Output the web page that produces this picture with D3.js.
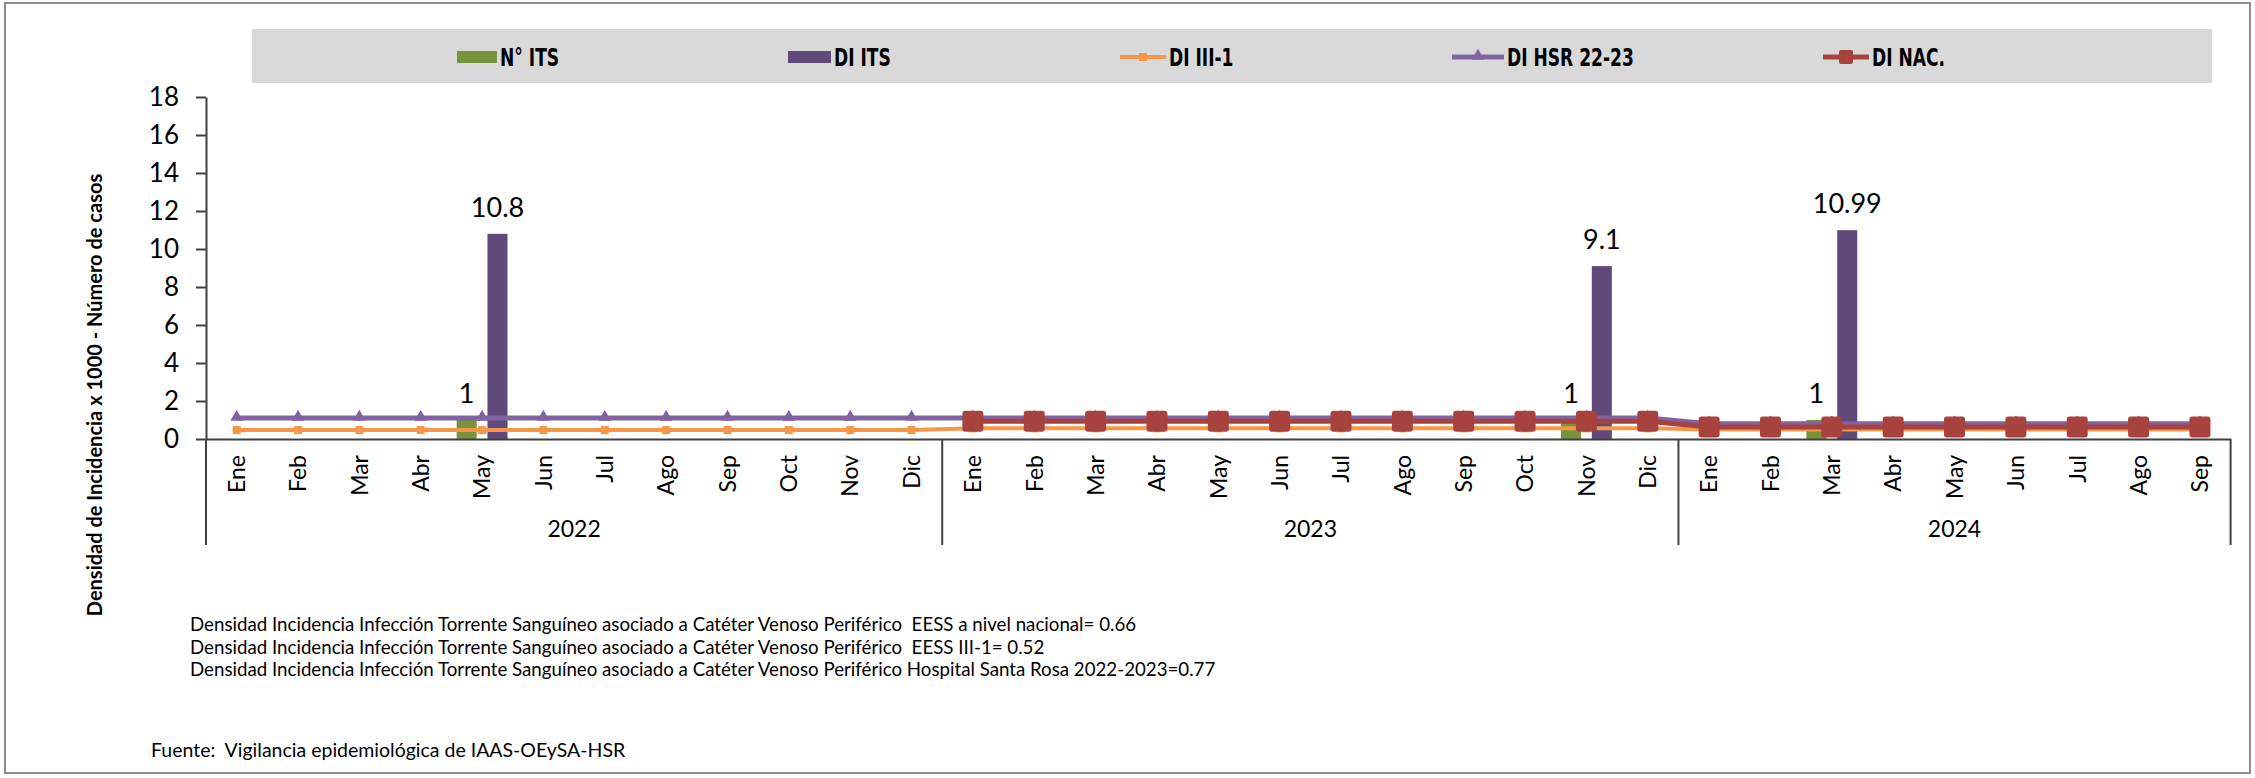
<!DOCTYPE html>
<html>
<head>
<meta charset="utf-8">
<script src="https://cdn.jsdelivr.net/npm/d3@7"></script>
<style>
  body { margin: 0; background: #fff; }
  text { font-family: Lato, "Open Sans", sans-serif; fill: #000; }
</style>
</head>
<body>
<div id="chart"></div>
<script>
// ---- data ----
var years = ["2022", "2023", "2024"];
var months2022 = ["Ene","Feb","Mar","Abr","May","Jun","Jul","Ago","Sep","Oct","Nov","Dic"];
var months2023 = ["Ene","Feb","Mar","Abr","May","Jun","Jul","Ago","Sep","Oct","Nov","Dic"];
var months2024 = ["Ene","Feb","Mar","Abr","May","Jun","Jul","Ago","Sep"];
var yTicks = [0, 2, 4, 6, 8, 10, 12, 14, 16, 18];

// N° ITS (bars, green)
var nITS = [null,null,null,null,1,null,null,null,null,null,null,null,
            null,null,null,null,null,null,null,null,null,null,1,null,
            null,null,1,null,null,null,null,null,null];
// DI ITS (bars, purple)
var diITS = [null,null,null,null,10.8,null,null,null,null,null,null,null,
             null,null,null,null,null,null,null,null,null,null,9.1,null,
             null,null,10.99,null,null,null,null,null,null];
// DI III-1 (orange line)
var diIII1 = [0.47,0.47,0.47,0.47,0.47,0.47,0.47,0.47,0.47,0.47,0.47,0.47,
              0.56,0.56,0.56,0.56,0.56,0.56,0.56,0.56,0.56,0.56,0.56,0.56,
              0.5,0.5,0.5,0.5,0.5,0.5,0.5,0.5,0.5];
// DI HSR 22-23 (purple line)
var diHSR = [1.1,1.1,1.1,1.1,1.1,1.1,1.1,1.1,1.1,1.1,1.1,1.1,
             1.1,1.1,1.1,1.1,1.1,1.1,1.1,1.1,1.1,1.1,1.1,1.1,
             0.8,0.8,0.8,0.8,0.8,0.8,0.8,0.8,0.8];
// DI NAC. (red line)
var diNAC = [null,null,null,null,null,null,null,null,null,null,null,null,
             0.93,0.93,0.93,0.93,0.93,0.93,0.93,0.93,0.93,0.93,0.93,0.93,
             0.63,0.63,0.63,0.63,0.63,0.63,0.63,0.63,0.63];

var legendNames = ["N° ITS", "DI ITS", "DI III-1", "DI HSR 22-23", "DI NAC."];
var notes = [
  "Densidad Incidencia Infección Torrente Sanguíneo asociado a Catéter Venoso Periférico  EESS a nivel nacional= 0.66",
  "Densidad Incidencia Infección Torrente Sanguíneo asociado a Catéter Venoso Periférico  EESS III-1= 0.52",
  "Densidad Incidencia Infección Torrente Sanguíneo asociado a Catéter Venoso Periférico Hospital Santa Rosa 2022-2023=0.77"
];
var source = "Fuente:  Vigilancia epidemiológica de IAAS-OEySA-HSR";

var monthsByYear = [months2022, months2023, months2024];
var cats = [];
monthsByYear.forEach(function(ms, yi) {
  ms.forEach(function(m) { cats.push({ year: years[yi], month: m }); });
});

drawChart(2255, 778);

function drawChart(W, H) {
  var margin = {top: 97, right: 24.4, bottom: 339, left: 206},
      width = W - margin.left - margin.right,
      height = H - margin.top - margin.bottom;

  var cGreen = "#77933C", cPurpleBar = "#604A7B", cOrange = "#F79646",
      cPurple = "#8064A2", cRed = "#A8423F", cAxis = "#404040";

  var svg = d3.select("#chart").append("svg")
      .attr("width", W).attr("height", H);

  // outer frame
  svg.append("rect")
      .attr("x", 5).attr("y", 3).attr("width", W - 10).attr("height", H - 8)
      .attr("fill", "none").attr("stroke", "#8c8c8c").attr("stroke-width", 2);

  // legend band
  svg.append("rect")
      .attr("x", 252).attr("y", 29).attr("width", 1960).attr("height", 54)
      .attr("fill", "#D9D9D9");

  var g = svg.append("g")
      .attr("transform", "translate(" + margin.left + "," + margin.top + ")");

  var x = d3.scaleBand()
      .domain(d3.range(cats.length))
      .range([0, width])
      .padding(0);
  var xSub = d3.scaleBand()
      .domain(["n", "di"])
      .range([0, x.bandwidth()])
      .paddingInner(0.35)
      .paddingOuter(0.17);
  var y = d3.scaleLinear()
      .domain([0, 18])
      .range([height, 0]);

  // bars
  var barData = [];
  cats.forEach(function(c, i) {
    if (nITS[i] != null) barData.push({ i: i, k: "n", v: nITS[i] });
    if (diITS[i] != null) barData.push({ i: i, k: "di", v: diITS[i] });
  });
  g.selectAll(".bar")
      .data(barData)
      .enter().append("rect")
      .attr("class", "bar")
      .attr("x", function(d) { return x(d.i) + xSub(d.k); })
      .attr("width", xSub.bandwidth())
      .attr("y", function(d) { return y(d.v); })
      .attr("height", function(d) { return height - y(d.v); })
      .attr("fill", function(d) { return d.k == "n" ? cGreen : cPurpleBar; });

  // bar labels
  g.selectAll(".blabel")
      .data(barData)
      .enter().append("text")
      .attr("class", "blabel")
      .attr("x", function(d) { return x(d.i) + xSub(d.k) + xSub.bandwidth() / 2; })
      .attr("y", function(d) { return y(d.v) - 17; })
      .attr("text-anchor", "middle")
      .style("font-size", "27px")
      .text(function(d) { return d.v; });

  var cx = function(i) { return x(i) + x.bandwidth() / 2; };
  var line = d3.line()
      .defined(function(d) { return d != null; })
      .x(function(d, i) { return cx(i); })
      .y(function(d) { return y(d); });

  // orange line
  g.append("path").datum(diIII1)
      .attr("d", line).attr("fill", "none")
      .attr("stroke", cOrange).attr("stroke-width", 4);
  g.selectAll(".mOrange")
      .data(diIII1.map(function(v, i) { return { i: i, v: v }; }))
      .enter().append("rect")
      .attr("x", function(d) { return cx(d.i) - 4; })
      .attr("y", function(d) { return y(d.v) - 4; })
      .attr("width", 8).attr("height", 8)
      .attr("fill", cOrange);

  // purple line
  g.append("path").datum(diHSR)
      .attr("d", line).attr("fill", "none")
      .attr("stroke", cPurple).attr("stroke-width", 5);
  var tri = d3.symbol().type(d3.symbolTriangle).size(70);
  g.selectAll(".mPurple")
      .data(diHSR.map(function(v, i) { return { i: i, v: v }; }))
      .enter().append("path")
      .attr("d", tri)
      .attr("transform", function(d) { return "translate(" + cx(d.i) + "," + (y(d.v) - 1) + ")"; })
      .attr("fill", cPurple);

  // red line
  g.append("path").datum(diNAC)
      .attr("d", line).attr("fill", "none")
      .attr("stroke", cRed).attr("stroke-width", 5);
  g.selectAll(".mRed")
      .data(diNAC.map(function(v, i) { return { i: i, v: v }; }).filter(function(d) { return d.v != null; }))
      .enter().append("rect")
      .attr("x", function(d) { return cx(d.i) - 10.5; })
      .attr("y", function(d) { return y(d.v) - 10.5; })
      .attr("width", 21).attr("height", 21).attr("rx", 3)
      .attr("fill", cRed);

  // y axis
  var yAxis = g.append("g")
      .call(d3.axisLeft(y).tickValues(yTicks).tickSize(10).tickSizeOuter(0).tickPadding(17));
  yAxis.selectAll("line, path").attr("stroke", cAxis).attr("stroke-width", 2);
  yAxis.selectAll("text").style("font-size", "26px").attr("fill", "#000")
      .style("font-family", "Lato, sans-serif");

  // x axis
  var xAxis = g.append("g")
      .attr("transform", "translate(0," + height + ")")
      .call(d3.axisBottom(x).tickSize(0).tickSizeOuter(0)
            .tickFormat(function(i) { return cats[i].month; }));
  xAxis.select(".domain").attr("stroke", cAxis).attr("stroke-width", 2);
  xAxis.selectAll("text")
      .attr("transform", "rotate(-90)")
      .attr("x", -16).attr("y", 0).attr("dy", "0.36em")
      .style("text-anchor", "end")
      .style("font-size", "23px")
      .style("font-family", "Lato, sans-serif")
      .attr("fill", "#000");

  // year groups
  var bounds = [0];
  monthsByYear.forEach(function(ms, yi) { bounds.push(bounds[yi] + ms.length); });
  g.selectAll(".ydiv")
      .data(bounds)
      .enter().append("line")
      .attr("x1", function(b) { return b * x.step(); })
      .attr("x2", function(b) { return b * x.step(); })
      .attr("y1", height).attr("y2", height + 106)
      .attr("stroke", cAxis).attr("stroke-width", 2);
  g.selectAll(".ylabel")
      .data(years)
      .enter().append("text")
      .attr("x", function(d, i) { return (bounds[i] + bounds[i + 1]) / 2 * x.step(); })
      .attr("y", height + 98)
      .attr("text-anchor", "middle")
      .style("font-size", "23px")
      .text(function(d) { return d; });

  // y title
  svg.append("text")
      .attr("transform", "translate(95,395) rotate(-90)")
      .attr("dy", "0.35em")
      .attr("text-anchor", "middle")
      .style("font-size", "20px")
      .style("font-weight", "bold")
      .text("Densidad de Incidencia x 1000 - Número de casos");

  // legend
  var legendX = [457, 788, 1120, 1452, 1823];
  var ly = 57;
  var lg = svg.append("g").attr("class", "legend");
  lg.append("rect").attr("x", legendX[0]).attr("y", ly - 6).attr("width", 40).attr("height", 12).attr("fill", cGreen);
  lg.append("rect").attr("x", legendX[1]).attr("y", ly - 6).attr("width", 43).attr("height", 12).attr("fill", cPurpleBar);
  lg.append("line").attr("x1", legendX[2]).attr("x2", legendX[2] + 46).attr("y1", ly).attr("y2", ly)
      .attr("stroke", cOrange).attr("stroke-width", 4);
  lg.append("rect").attr("x", legendX[2] + 19).attr("y", ly - 4).attr("width", 8).attr("height", 8).attr("fill", cOrange);
  lg.append("line").attr("x1", legendX[3]).attr("x2", legendX[3] + 52).attr("y1", ly).attr("y2", ly)
      .attr("stroke", cPurple).attr("stroke-width", 5);
  lg.append("path").attr("d", tri).attr("transform", "translate(" + (legendX[3] + 26) + "," + (ly - 1) + ")").attr("fill", cPurple);
  lg.append("line").attr("x1", legendX[4]).attr("x2", legendX[4] + 46).attr("y1", ly).attr("y2", ly)
      .attr("stroke", cRed).attr("stroke-width", 5);
  lg.append("rect").attr("x", legendX[4] + 16).attr("y", ly - 7).attr("width", 14).attr("height", 14).attr("rx", 2).attr("fill", cRed);
  var symW = [40, 43, 46, 52, 46];
  // narrow bold face: squeeze a condensed font horizontally
  lg.selectAll(".ltext")
      .data(legendNames)
      .enter().append("text")
      .attr("transform", function(d, i) {
        return "translate(" + (legendX[i] + symW[i] + 3) + "," + ly + ") scale(0.76,1)";
      })
      .attr("dy", "0.36em")
      .style("font-family", "'Liberation Sans Narrow', 'DejaVu Sans Condensed', sans-serif")
      .style("font-weight", "bold")
      .style("font-size", "25px")
      .text(function(d) { return d; });

  // notes
  svg.selectAll(".note")
      .data(notes)
      .enter().append("text")
      .attr("x", 190)
      .attr("y", function(d, i) { return 631 + i * 22.5; })
      .style("white-space", "pre")
      .style("font-size", "18.7px")
      .attr("fill", "#1a1a1a")
      .text(function(d) { return d; });

  svg.append("text")
      .attr("x", 151).attr("y", 757)
      .style("white-space", "pre")
      .style("font-size", "19.5px")
      .text(source);
}
</script>
</body>
</html>
